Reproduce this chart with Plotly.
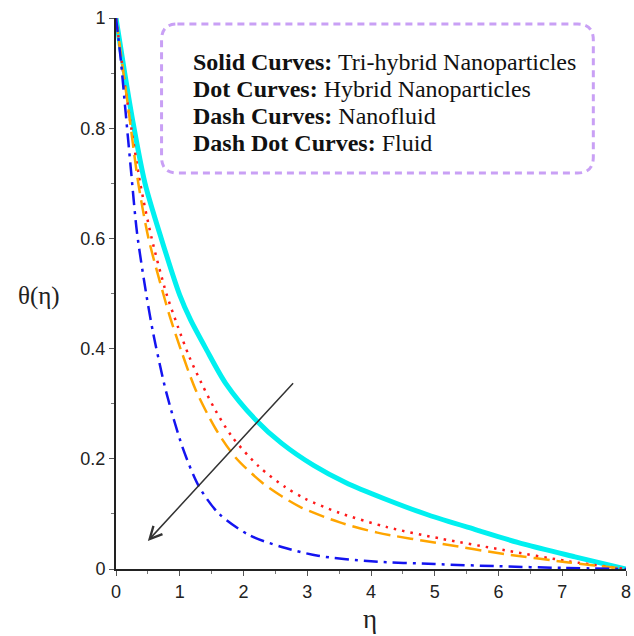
import plotly.graph_objects as go

# ---- data ----
eta_tri = [0, 0.13, 0.26, 0.455, 0.71, 1.0, 1.17, 1.41, 1.72, 2.18, 2.6, 3.1, 3.6, 4.2, 4.9, 5.65, 6.4, 7.2, 8]
theta_tri = [1, 0.905, 0.815, 0.70, 0.60, 0.497, 0.452, 0.40, 0.337, 0.272, 0.228, 0.188, 0.157, 0.128, 0.098, 0.071, 0.045, 0.022, 0]

eta_hyb = [0, 0.12, 0.22, 0.38, 0.56, 0.79, 0.97, 1.15, 1.35, 1.56, 1.82, 2.24, 2.65, 2.96, 3.5, 4.25, 5.1, 6.1, 7.1, 8]
theta_hyb = [1, 0.895, 0.815, 0.70, 0.60, 0.50, 0.44, 0.385, 0.335, 0.288, 0.24, 0.186, 0.149, 0.128, 0.102, 0.076, 0.055, 0.034, 0.014, 0]

eta_nano = [0, 0.1, 0.2, 0.35, 0.51, 0.74, 0.84, 1.02, 1.25, 1.56, 1.87, 2.29, 2.6, 2.9, 3.5, 4.1, 5.1, 6.1, 7.1, 8]
theta_nano = [1, 0.915, 0.83, 0.70, 0.60, 0.50, 0.46, 0.397, 0.325, 0.255, 0.203, 0.157, 0.132, 0.112, 0.085, 0.066, 0.046, 0.027, 0.012, 0]

eta_fluid = [0, 0.07, 0.15, 0.23, 0.33, 0.48, 0.58, 0.68, 0.79, 1.04, 1.3, 1.61, 2.08, 2.6, 3.17, 4, 5, 6, 7, 8]
theta_fluid = [1, 0.93, 0.83, 0.73, 0.61, 0.495, 0.43, 0.375, 0.32, 0.222, 0.15, 0.101, 0.062, 0.04, 0.024, 0.014, 0.009, 0.005, 0.002, 0]

x_ticks = [0, 1, 2, 3, 4, 5, 6, 7, 8]
y_ticks = [0, 0.2, 0.4, 0.6, 0.8, 1]
y_tick_labels = ["0", "0.2", "0.4", "0.6", "0.8", "1"]

legend_lines = [
    ("Solid Curves:", "Tri-hybrid Nanoparticles"),
    ("Dot Curves:", "Hybrid Nanoparticles"),
    ("Dash Curves:", "Nanofluid"),
    ("Dash Dot Curves:", "Fluid"),
]

# ---- figure ----
W, H = 634, 636
ML, MR, MT, MB = 116, 3, 18, 67
PW, PH = W - ML - MR, H - MT - MB


def px(xp):
    return (xp - ML) / PW


def py(yp):
    return (H - MB - yp) / PH


fig = go.Figure()
fig.add_trace(go.Scatter(x=eta_tri, y=theta_tri, mode="lines",
                         line=dict(color="#00f0f0", width=5, shape="spline", smoothing=0.8)))
fig.add_trace(go.Scatter(x=eta_hyb, y=theta_hyb, mode="lines",
                         line=dict(color="#ff1a1a", width=2.5, dash="2.5px,6px", shape="spline", smoothing=0.8)))
fig.add_trace(go.Scatter(x=eta_nano, y=theta_nano, mode="lines",
                         line=dict(color="#ffa500", width=2.5, dash="16px,7px", shape="spline", smoothing=0.8)))
fig.add_trace(go.Scatter(x=eta_fluid, y=theta_fluid, mode="lines",
                         line=dict(color="#1414f0", width=2.5, dash="14px,6px,3px,6px", shape="spline", smoothing=0.8)))

tickfont = dict(family="Liberation Sans, Arial, sans-serif", size=18, color="#222")
fig.update_xaxes(range=[0, 8], tickvals=x_ticks, ticks="outside", ticklen=5, tickwidth=1.2,
                 tickcolor="#555", showline=True, linecolor="#222", linewidth=2,
                 showgrid=False, zeroline=False, tickfont=tickfont, ticklabeloverflow="allow",
                 minor=dict(dtick=0.5, ticks="outside", ticklen=3, tickcolor="#777", tickwidth=1))
fig.update_yaxes(range=[0, 1], tickvals=y_ticks, ticktext=y_tick_labels, ticks="outside", ticklen=5,
                 tickwidth=1.2, tickcolor="#555", showline=True, linecolor="#222", linewidth=2,
                 showgrid=False, zeroline=False, tickfont=tickfont,
                 minor=dict(dtick=0.1, ticks="outside", ticklen=3, tickcolor="#777", tickwidth=1))

# legend box (rounded dashed rectangle)
x0, x1 = px(162), px(598)
y0, y1 = py(173), py(24)
rx, ry = 16 / PW, 16 / PH
path = (f"M{x0 + rx},{y1} L{x1 - rx},{y1} Q{x1},{y1} {x1},{y1 - ry} "
        f"L{x1},{y0 + ry} Q{x1},{y0} {x1 - rx},{y0} L{x0 + rx},{y0} "
        f"Q{x0},{y0} {x0},{y0 + ry} L{x0},{y1 - ry} Q{x0},{y1} {x0 + rx},{y1} Z")
fig.add_shape(type="path", path=path, xref="paper", yref="paper",
              line=dict(color="#c9a0f5", width=3, dash="7px,5px"), fillcolor="rgba(0,0,0,0)")

line_y = [62, 89, 116, 143]
for (b, r), yy in zip(legend_lines, line_y):
    fig.add_annotation(x=px(192), y=py(yy), xref="paper", yref="paper", xanchor="left", yanchor="middle",
                       showarrow=False, text=f"<b>{b}</b> {r}",
                       font=dict(family="Liberation Serif, Times New Roman, serif", size=24, color="#111"))

# axis titles
fig.add_annotation(x=px(38), y=py(296), xref="paper", yref="paper", showarrow=False,
                   xanchor="center", yanchor="middle",
                   text="θ(η)", font=dict(family="Liberation Serif, serif", size=25, color="#222"))
fig.add_annotation(x=px(372), y=py(619), xref="paper", yref="paper", showarrow=False,
                   xanchor="center", yanchor="middle",
                   text="η", font=dict(family="Liberation Serif, serif", size=27, color="#222"))

# arrow
fig.add_annotation(x=0.5, y=0.051, ax=2.8, ay=0.34, xref="x", yref="y", axref="x", ayref="y",
                   showarrow=True, text="", arrowhead=5, arrowsize=1.6, arrowwidth=1.5,
                   arrowcolor="#333", standoff=0)

fig.update_layout(width=W, height=H, autosize=False, margin=dict(l=ML, r=MR, t=MT, b=MB),
                  paper_bgcolor="white", plot_bgcolor="white", showlegend=False)

fig.write_html("out.html")
